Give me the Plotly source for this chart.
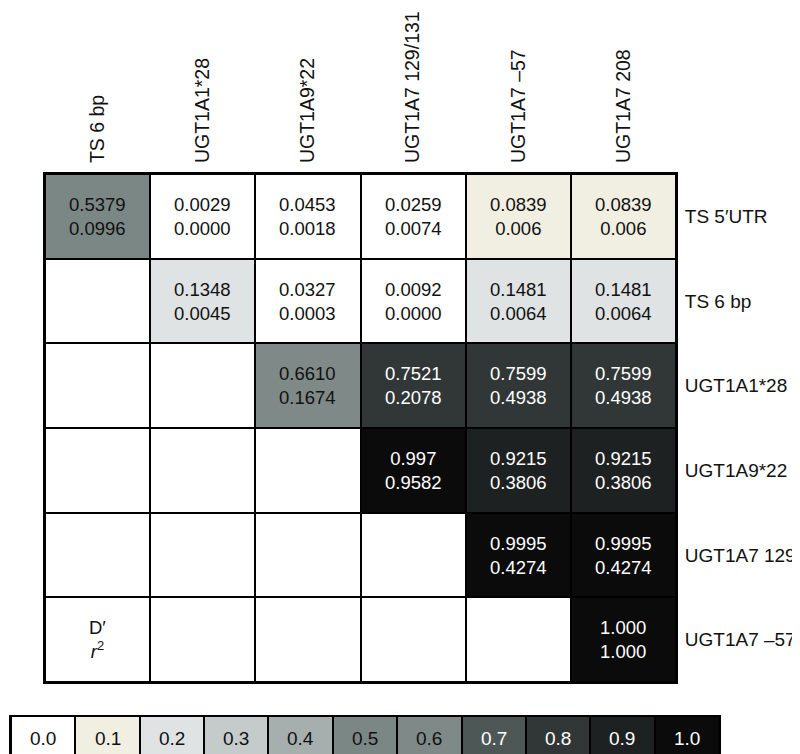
import plotly.graph_objects as go

# ---- data ----
col_labels = ["TS 6 bp", "UGT1A1*28", "UGT1A9*22", "UGT1A7 129/131", "UGT1A7 \u201357", "UGT1A7 208"]
row_labels = ["TS 5\u2032UTR", "TS 6 bp", "UGT1A1*28", "UGT1A9*22", "UGT1A7 129", "UGT1A7 \u201357"]

d_prime = [
    ["0.5379", "0.0029", "0.0453", "0.0259", "0.0839", "0.0839"],
    [None, "0.1348", "0.0327", "0.0092", "0.1481", "0.1481"],
    [None, None, "0.6610", "0.7521", "0.7599", "0.7599"],
    [None, None, None, "0.997", "0.9215", "0.9215"],
    [None, None, None, None, "0.9995", "0.9995"],
    [None, None, None, None, None, "1.000"],
]
r_squared = [
    ["0.0996", "0.0000", "0.0018", "0.0074", "0.006", "0.006"],
    [None, "0.0045", "0.0003", "0.0000", "0.0064", "0.0064"],
    [None, None, "0.1674", "0.2078", "0.4938", "0.4938"],
    [None, None, None, "0.9582", "0.3806", "0.3806"],
    [None, None, None, None, "0.4274", "0.4274"],
    [None, None, None, None, None, "1.000"],
]
# shading level of each cell (as drawn in the figure)
shade_level = [
    [0.5, 0.0, 0.0, 0.0, 0.1, 0.1],
    [None, 0.2, 0.0, 0.0, 0.2, 0.2],
    [None, None, 0.6, 0.8, 0.8, 0.8],
    [None, None, None, 1.0, 0.9, 0.9],
    [None, None, None, None, 1.0, 1.0],
    [None, None, None, None, None, 1.0],
]
scale_levels = [0.0, 0.1, 0.2, 0.3, 0.4, 0.5, 0.6, 0.7, 0.8, 0.9, 1.0]
scale_labels = ["0.0", "0.1", "0.2", "0.3", "0.4", "0.5", "0.6", "0.7", "0.8", "0.9", "1.0"]
scale_colors = ["#ffffff", "#f1efe2", "#dfe3e3", "#c5cbca", "#a6afad", "#7b8785",
                "#7f8a88", "#4d5756", "#313737", "#1e2121", "#0b0b0b"]

FONT = "Liberation Sans, Arial, Helvetica, sans-serif"
W, H = 800, 754

n = len(scale_colors)
colorscale = []
for i, c in enumerate(scale_colors):
    colorscale.append([i / n, c])
    colorscale.append([(i + 1) / n, c])

z_main = [[(v if v is not None else 0.0) for v in row] for row in shade_level]

fig = go.Figure()
fig.add_trace(go.Heatmap(
    z=z_main, x=list(range(len(col_labels))), y=list(range(len(row_labels))),
    colorscale=colorscale, zmin=-0.05, zmax=1.05, showscale=False,
    xgap=2, ygap=2, hoverinfo="skip", xaxis="x", yaxis="y"))

fig.add_trace(go.Heatmap(
    z=[scale_levels], x=list(range(n)), y=[0],
    colorscale=colorscale, zmin=-0.05, zmax=1.05, showscale=False,
    xgap=2, ygap=0, hoverinfo="skip", xaxis="x2", yaxis="y2"))

annotations = []
for i, row in enumerate(d_prime):
    for j, d in enumerate(row):
        if d is None:
            continue
        lvl = shade_level[i][j]
        col = "white" if lvl >= 0.7 else "#111111"
        annotations.append(dict(
            x=j, y=i, xref="x", yref="y", showarrow=False,
            text=f"{d}<br>{r_squared[i][j]}",
            font=dict(family=FONT, size=18.5, color=col)))
annotations.append(dict(
    x=0, y=len(row_labels) - 1, xref="x", yref="y", showarrow=False,
    text="D\u2032<br><i>r</i><sup>2</sup>",
    font=dict(family=FONT, size=18.5, color="#111111")))
for k, lab in enumerate(scale_labels):
    annotations.append(dict(
        x=k, y=0, xref="x2", yref="y2", showarrow=False, text=lab,
        font=dict(family=FONT, size=19, color="white" if scale_levels[k] >= 0.7 else "#111111")))

common = dict(showgrid=False, zeroline=False, showline=True, linewidth=2,
              linecolor="black", mirror=True, automargin=False, fixedrange=True)

fig.update_layout(
    width=W, height=H, margin=dict(l=0, r=0, t=0, b=0),
    paper_bgcolor="white", plot_bgcolor="black",
    font=dict(family=FONT, size=18, color="#111111"),
    annotations=annotations,
    xaxis=dict(domain=[37 / W, 668 / W], range=[-0.5, 5.5], side="top",
               tickmode="array", tickvals=list(range(len(col_labels))), ticktext=col_labels,
               tickangle=-90, ticks="", ticklabelstandoff=5, tickfont=dict(size=19.5), **common),
    yaxis=dict(domain=[(H - 674) / H, (H - 166) / H], range=[5.5, -0.5], side="right",
               tickmode="array", tickvals=list(range(len(row_labels))), ticktext=row_labels,
               ticks="", ticklabelstandoff=3, tickfont=dict(size=19), **common),
    xaxis2=dict(domain=[3 / W, 711 / W], range=[-0.5, n - 0.5], anchor="y2",
                showticklabels=False, ticks="", **common),
    yaxis2=dict(domain=[(H - 752) / H, (H - 709) / H], range=[-0.5, 0.5], anchor="x2",
                showticklabels=False, ticks="", **common),
)

fig.write_html("out.html")
